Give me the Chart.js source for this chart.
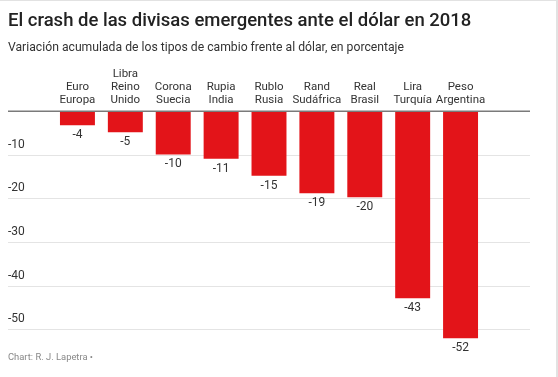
<!DOCTYPE html>
<html><head><meta charset="utf-8">
<script src="https://cdn.jsdelivr.net/npm/chart.js@4"></script>
<style>
html,body{margin:0;padding:0;background:#fff;}
#wrap{position:relative;width:558px;height:377px;overflow:hidden;font-family:Roboto,"Noto Sans",sans-serif;}
#c{position:absolute;left:0;top:0;}
.t{position:absolute;left:8px;white-space:nowrap;}
#title{top:9px;font-size:18.5px;font-weight:500;color:#222;}
#sub{top:40px;font-size:12.2px;color:#333;}
#foot{top:351px;font-size:9.4px;color:#888;}
#bt{position:absolute;left:0;top:0;width:558px;height:1px;background:#e2e2e2;}
#br{position:absolute;left:556px;top:0;width:2px;height:377px;background:#e2e2e2;}
</style></head>
<body>
<div id="wrap">
<canvas id="c" width="558" height="377"></canvas>
<div class="t" id="title">El crash de las divisas emergentes ante el dólar en 2018</div>
<div class="t" id="sub">Variación acumulada de los tipos de cambio frente al dólar, en porcentaje</div>
<div class="t" id="foot">Chart: R. J. Lapetra •</div>
<div id="bt"></div><div id="br"></div>
</div>
<script>
const categories = [['Euro','Europa'],['Libra','Reino','Unido'],['Corona','Suecia'],['Rupia','India'],['Rublo','Rusia'],['Rand','Sudáfrica'],['Real','Brasil'],['Lira','Turquía'],['Peso','Argentina']];
const values = [-3.2, -4.8, -9.9, -10.9, -14.8, -18.8, -19.7, -42.9, -52.1];
const valueLabels = ['-4','-5','-10','-11','-15','-19','-20','-43','-52'];
const yTicks = [-10, -20, -30, -40, -50];

const FONT = 'Roboto, "Noto Sans", sans-serif';

const gridPlugin = {
  id: 'fullGrid',
  beforeDatasetsDraw(chart) {
    const y = chart.scales.y, ctx = chart.ctx;
    ctx.save();
    ctx.strokeStyle = '#e4e4e4';
    ctx.lineWidth = 1;
    yTicks.forEach(v => {
      const py = Math.round(y.getPixelForValue(v)) + 0.5;
      ctx.beginPath(); ctx.moveTo(8, py); ctx.lineTo(530, py); ctx.stroke();
    });
    ctx.restore();
  },
  afterDatasetsDraw(chart) {
    const y = chart.scales.y, ctx = chart.ctx;
    ctx.save();
    ctx.strokeStyle = '#7a7a7a';
    ctx.lineWidth = 1.5;
    const py0 = y.getPixelForValue(0);
    ctx.beginPath(); ctx.moveTo(8, py0); ctx.lineTo(530, py0); ctx.stroke();
    ctx.fillStyle = '#333';
    ctx.font = '12px ' + FONT;
    ctx.textAlign = 'center';
    ctx.textBaseline = 'middle';
    chart.getDatasetMeta(0).data.forEach((bar, i) => {
      ctx.fillText(valueLabels[i], bar.x, bar.y + 10);
    });
    ctx.restore();
  }
};

new Chart(document.getElementById('c'), {
  type: 'bar',
  data: {
    labels: categories,
    datasets: [{
      data: values,
      backgroundColor: '#e31419',
      borderWidth: 0,
      barPercentage: 0.73,
      categoryPercentage: 1
    }]
  },
  options: {
    responsive: false,
    animation: false,
    layout: { padding: { left: 8, right: 73.5, top: 59.3, bottom: 26 } },
    plugins: { legend: { display: false }, tooltip: { enabled: false } },
    scales: {
      x: {
        position: 'top',
        grid: { display: false, drawTicks: false },
        border: { display: false },
        ticks: {
          color: '#333',
          font: { family: FONT, size: 11.5, lineHeight: 1.13 },
          padding: 5, maxRotation: 0, autoSkip: false
        },
        afterFit: s => { s.height = 52; }
      },
      y: {
        min: -55, max: 0,
        grid: { display: false, drawTicks: false },
        border: { display: false },
        afterBuildTicks: s => { s.ticks = yTicks.map(v => ({ value: v })); },
        ticks: {
          color: '#333',
          font: { family: FONT, size: 12 },
          crossAlign: 'far',
          labelOffset: -10,
          padding: 0,
          callback: v => String(v)
        },
        afterFit: s => { s.width = 45.5; }
      }
    }
  },
  plugins: [gridPlugin]
});
</script>
</body></html>
